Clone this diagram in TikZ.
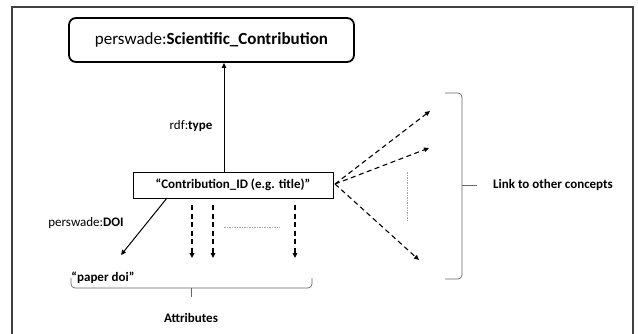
\documentclass[tikz,border=0pt]{standalone}
\usepackage{fontspec}
\setmainfont{Carlito}
\usetikzlibrary{arrows.meta}
\begin{document}
\begin{tikzpicture}[x=1pt,y=-1pt,
  lbl/.style={inner sep=0pt,font=\fontsize{13}{15}\selectfont},
  blbl/.style={inner sep=0pt,font=\fontsize{13}{15}\selectfont\bfseries},
  tip/.style={-{Triangle[length=5pt,width=4.5pt]}},
  dasharrow/.style={tip,line width=1.1pt,dash pattern=on 5pt off 3.5pt},
  thindot/.style={draw=gray!70,line width=0.5pt,dash pattern=on 1.5pt off 1pt},
  bracestyle/.style={draw=gray!80!black,line width=0.7pt,rounded corners=4pt}]
\useasboundingbox (0,0) rectangle (638,333);
% frame
\draw[line width=1.2pt,draw=black!75] (12,340) -- (12,7) -- (633,7) -- (633,340);
% top class node
\node[draw,line width=1.8pt,rounded corners=7pt,minimum width=285pt,minimum height=44pt,inner sep=0pt,
  font=\fontsize{17}{20}\selectfont] (top) at (211.5,40) {perswade:\textbf{Scientific\_Contribution}};
% id node
\node[draw,line width=0.8pt,minimum width=200pt,minimum height=26pt,inner sep=0pt,blbl] (id) at (233,185) {“Contribution\_ID (e.g. title)”};
% labels
\node[lbl] (rdf) at (191,126) {rdf:\textbf{type}};
\node[lbl] (doilbl) at (86,223) {perswade:\textbf{DOI}};
\node[blbl] (doi) at (103,278) {“paper doi”};
\node[blbl] (attr) at (191,318) {Attributes};
\node[blbl] (link) at (553,185) {Link to other concepts};
% rdf:type arrow
\coordinate (a1) at (224,172);
\draw[tip,line width=1pt] (a1) -- (a1 |- top.south);
% DOI arrow
\coordinate (d0) at (167,198);
\coordinate (d1) at (121,255);
\draw[tip,line width=1pt] (d0) -- (d1);
% attribute dashed arrows
\foreach \x/\n in {192/p,213/q,295/r}{
  \coordinate (\n0) at (\x,205);
  \coordinate (\n1) at (\x,258);
  \draw[dasharrow] (\n0) -- (\n1);
}
\coordinate (h0) at (224,227);
\coordinate (h1) at (280,227);
\draw[thindot] (h0) -- (h1);
% links to other concepts
\coordinate (c0) at (335,184);
\coordinate (e1) at (430,111);
\coordinate (e2) at (429,148);
\coordinate (e3) at (419,260);
\draw[dasharrow] (c0) -- (e1);
\draw[dasharrow] (c0) -- (e2);
\draw[dasharrow] (c0) -- (e3);
\coordinate (v0) at (407,172);
\coordinate (v1) at (407,222);
\draw[thindot] (v0) -- (v1);
% braces
\draw[bracestyle] (71,278) -- (71,288) -- (312,288) -- (312,278);
\draw[bracestyle,rounded corners=0pt] (191,288) -- (191,297);
\draw[bracestyle] (445,93) -- (462,93) -- (462,279) -- (445,279);
\draw[bracestyle,rounded corners=0pt] (462,185) -- (477,185);
\end{tikzpicture}
\end{document}
